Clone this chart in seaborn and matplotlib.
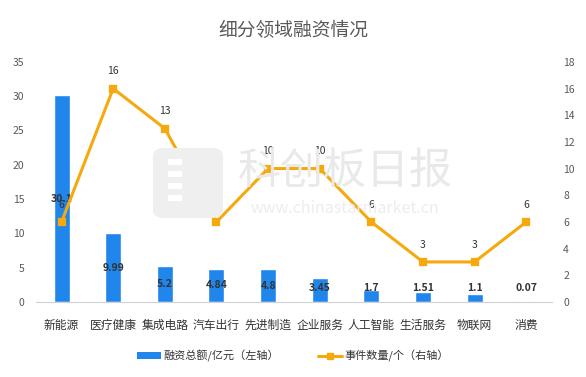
import matplotlib
matplotlib.use("Agg")
import matplotlib.pyplot as plt
from matplotlib.lines import Line2D
from matplotlib.patches import Patch, FancyBboxPatch, Rectangle
import seaborn as sns

sns.set_style("white")
plt.rcParams['font.family'] = ['Noto Sans CJK SC', 'DejaVu Sans']

# data
categories = ["新能源", "医疗健康", "集成电路", "汽车出行", "先进制造",
              "企业服务", "人工智能", "生活服务", "物联网", "消费"]
amount = [30.1, 9.99, 5.2, 4.84, 4.8, 3.45, 1.7, 1.51, 1.1, 0.07]   # 亿元, left axis
events = [6, 16, 13, 6, 10, 10, 6, 3, 3, 6]                          # 个, right axis

blue = "#2086ec"
orange = "#f5a90d"
grey = "#595959"

fig = plt.figure(figsize=(5.86, 3.77), dpi=100)

# watermark (behind everything)
W, H = 586, 377
fig.patches.append(FancyBboxPatch((153 / W, 1 - 218 / H), 70 / W, 70 / H,
                                  boxstyle="round,pad=0,rounding_size=0.02",
                                  transform=fig.transFigure, facecolor="#efefef",
                                  edgecolor="none", zorder=0))
for k in range(4):
    fig.patches.append(Rectangle((168 / W, 1 - (165 + k * 12) / H), 14 / W, 6 / H,
                                 transform=fig.transFigure, facecolor="white",
                                 edgecolor="none", zorder=0))
fig.text(0.589, 0.543, "科创板日报", fontsize=31, color="#e9e9e9",
         fontweight="light", ha="center", va="center", zorder=0)
fig.text(0.589, 0.448, "www.chinastarmarket.cn", fontsize=11.5, color="#ededed",
         ha="center", va="center", zorder=0)

ax = fig.add_axes([0.061, 0.199, 0.881, 0.637])
ax.patch.set_alpha(0)

sns.barplot(x=categories, y=amount, ax=ax, color=blue, width=0.31,
            saturation=1)
ax.set_ylim(0, 35)
ax.set_yticks(range(0, 36, 5))

# bar labels, centred in the bar (kept above a minimum height)
for i, v in enumerate(amount):
    ax.text(i, max(v / 2, 2.0), f"{v:g}", ha="center", va="center",
            fontsize=7.5, fontweight="bold", color="#333333")

ax2 = ax.twinx()
ax2.patch.set_alpha(0)
sns.pointplot(x=categories, y=events, ax=ax2, color=orange, markers="s",
              markersize=5, linewidth=2.2)
ax2.set_ylim(0, 18)
ax2.set_yticks(range(0, 19, 2))
for i, v in enumerate(events):
    ax2.text(i, v + 1.3, str(v), ha="center", va="center",
             fontsize=7.5, color="#333333")

for a in (ax, ax2):
    for side in ("top", "left", "right"):
        a.spines[side].set_visible(False)
    a.spines["bottom"].set_color("#d0d0d8")
    a.tick_params(length=0, colors=grey, labelsize=7.5)
    a.set_ylabel("")
    a.set_xlabel("")
ax2.spines["bottom"].set_visible(False)
ax.tick_params(axis="y", pad=8)
ax2.tick_params(axis="y", pad=8)
ax.tick_params(axis="x", pad=12, labelsize=8.5, colors="#333333")
ax.set_xlim(-0.5, len(categories) - 0.5)

fig.text(0.5, 0.92, "细分领域融资情况", fontsize=13.5, color=grey,
         ha="center", va="center")

handles = [Patch(facecolor=blue, edgecolor="none"),
           Line2D([0], [0], color=orange, lw=2.2, marker="s", markersize=5)]
labels = ["融资总额/亿元（左轴）", "事件数量/个（右轴）"]
fig.legend(handles, labels, loc="center", bbox_to_anchor=(0.5, 0.056),
           ncol=2, frameon=False, fontsize=8, handlelength=2.2,
           handleheight=0.5, handletextpad=0.2, columnspacing=3.5,
           labelcolor="#333333")

fig.savefig("out.png", dpi=100)
